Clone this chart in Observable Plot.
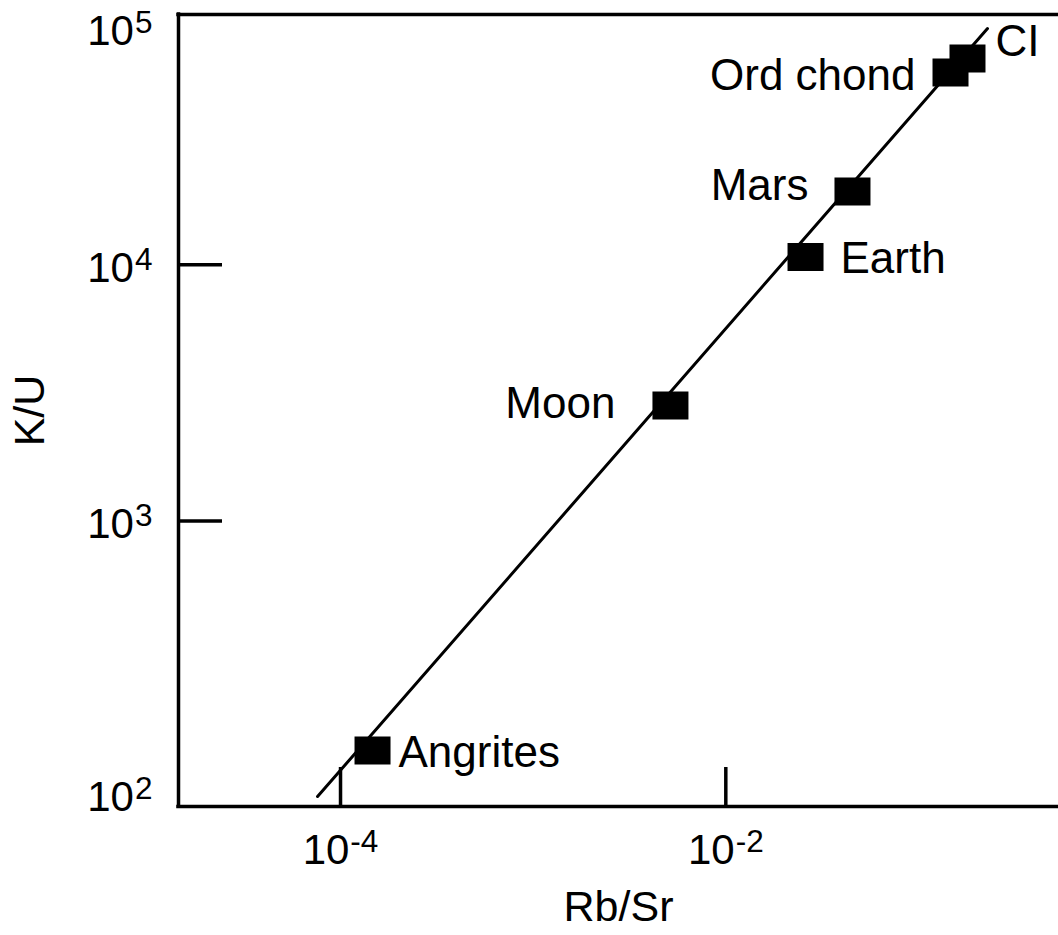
<!DOCTYPE html>
<html>
<head>
<meta charset="utf-8">
<script src="https://cdn.jsdelivr.net/npm/d3@7"></script>
<script src="https://cdn.jsdelivr.net/npm/@observablehq/plot@0.6"></script>
<style>
  html, body { margin: 0; padding: 0; background: #fff; }
  #chart { width: 1058px; height: 935px; }
  g[aria-label="point-label"] text { letter-spacing: 1.2px; }
  g[aria-label="axis-title"] text { letter-spacing: 1px; }
</style>
</head>
<body>
<div id="chart"></div>
<script>
// ---- data ----
const bodies = ["Angrites", "Moon", "Earth", "Mars", "Ord chond", "CI"];
const rbSr   = [1.466e-4, 5.16e-3, 0.02593, 0.04545, 0.1467, 0.1797];
const kU     = [127.1, 2824, 10725, 19330, 56330, 63870];

const fitRbSr = [7.60e-5, 0.2283];
const fitKU   = [84.07, 83610];

const xTicks = [1e-4, 1e-2];
const xTickLabels = ["10^-4", "10^-2"];
const yTicks = [1e3, 1e4];
const yTickLabels = ["10^3", "10^4"];
const yCornerLabels = ["10^5", "10^2"];

const xDomain = [1.442e-5, 0.5333];
const yDomain = [76.85, 94840];

const xTitle = "Rb/Sr";
const yTitle = "K/U";

// ---- label layout (styling, kept separate from data) ----
const labelLayout = {
  "Angrites":  { anchor: "start", dx: 26,  dy: 2 },
  "Moon":      { anchor: "end",   dx: -55, dy: -2 },
  "Earth":     { anchor: "start", dx: 35,  dy: 2 },
  "Mars":      { anchor: "end",   dx: -44, dy: -6 },
  "Ord chond": { anchor: "end",   dx: -35, dy: 3 },
  "CI":        { anchor: "start", dx: 28,  dy: -17 }
};

const points = bodies.map((name, i) => ({ name, x: rbSr[i], y: kU[i] }));
const fit = fitRbSr.map((x, i) => ({ x, y: fitKU[i] }));

// rectangular marker symbol
const rectSymbol = {
  draw(context, size) {
    const r = Math.sqrt(size / Math.PI);
    const h = r * 0.78;
    context.rect(-r, -h, 2 * r, 2 * h);
  }
};

const W = 1058, H = 935;
const mL = 178, mT = 14, mR = 0, mB = 129;
const frameW = W - mL - mR, frameH = H - mT - mB;
const TICK_FONT = 42;

const labelMarks = bodies.map(name => {
  const L = labelLayout[name];
  return Plot.text(points.filter(d => d.name === name), {
    x: "x", y: "y", text: "name",
    textAnchor: L.anchor, lineAnchor: "middle", dx: L.dx, dy: L.dy,
    fontSize: 44, fill: "black", ariaLabel: "point-label"
  });
});

const plot = Plot.plot({
  width: W,
  height: H,
  marginLeft: mL, marginTop: mT, marginRight: mR, marginBottom: mB,
  style: { fontFamily: "'Liberation Sans', Arial, Helvetica, sans-serif", color: "black", background: "white", overflow: "visible" },
  x: { type: "log", domain: xDomain },
  y: { type: "log", domain: yDomain },
  marks: [
    // frame (top, left, bottom; right side runs off the picture)
    Plot.ruleY([yDomain[1]], { stroke: "black", strokeWidth: 3.5, strokeLinecap: "square" }),
    Plot.ruleY([yDomain[0]], { stroke: "black", strokeWidth: 3.5, strokeLinecap: "square" }),
    Plot.ruleX([xDomain[0]], { stroke: "black", strokeWidth: 3.5, strokeLinecap: "square" }),
    // inward tick marks
    Plot.tickY(yTicks, { y: d => d, stroke: "black", strokeWidth: 3.5, insetRight: frameW - 44 }),
    Plot.tickX(xTicks, { x: d => d, stroke: "black", strokeWidth: 3.5, insetTop: frameH - 39 }),
    // fit line
    Plot.line(fit, { x: "x", y: "y", stroke: "black", strokeWidth: 3 }),
    // points
    Plot.dot(points, { x: "x", y: "y", symbol: rectSymbol, r: 18, fill: "black", stroke: "none" }),
    ...labelMarks,
    // axes
    Plot.axisX({ ticks: xTicks, tickFormat: d => xTickLabels[xTicks.indexOf(d)], tickSize: 0, tickPadding: 28, fontSize: TICK_FONT, label: null }),
    Plot.axisY({ ticks: yTicks, tickFormat: d => yTickLabels[yTicks.indexOf(d)], tickSize: 0, tickPadding: 26, dy: 4, fontSize: TICK_FONT, label: null }),
    Plot.text([yCornerLabels[0]], { text: d => d, frameAnchor: "top-left", textAnchor: "end", lineAnchor: "middle", dx: -26, dy: 16.6, fontSize: TICK_FONT, fill: "black" }),
    Plot.text([yCornerLabels[1]], { text: d => d, frameAnchor: "bottom-left", textAnchor: "end", lineAnchor: "middle", dx: -26, dy: -9.4, fontSize: TICK_FONT, fill: "black" }),
    // axis titles
    Plot.text([xTitle], { text: d => d, frameAnchor: "bottom", textAnchor: "middle", lineAnchor: "middle", dy: 101, fontSize: 43, fill: "black", ariaLabel: "axis-title" }),
    Plot.text([yTitle], { text: d => d, frameAnchor: "left", textAnchor: "middle", lineAnchor: "middle", dx: -148, rotate: -90, fontSize: 43, fill: "black", ariaLabel: "axis-title" })
  ]
});

// superscript exponents in labels like "10^-4"
d3.select(plot).selectAll("text").each(function () {
  const m = /^10\^(.+)$/.exec(this.textContent);
  if (!m) return;
  const t = d3.select(this);
  t.text(null);
  t.append("tspan").text("10");
  t.append("tspan").attr("font-size", "0.75em").attr("dx", "1").attr("dy", "-12").text(m[1]);
});

document.getElementById("chart").appendChild(plot);
</script>
</body>
</html>
